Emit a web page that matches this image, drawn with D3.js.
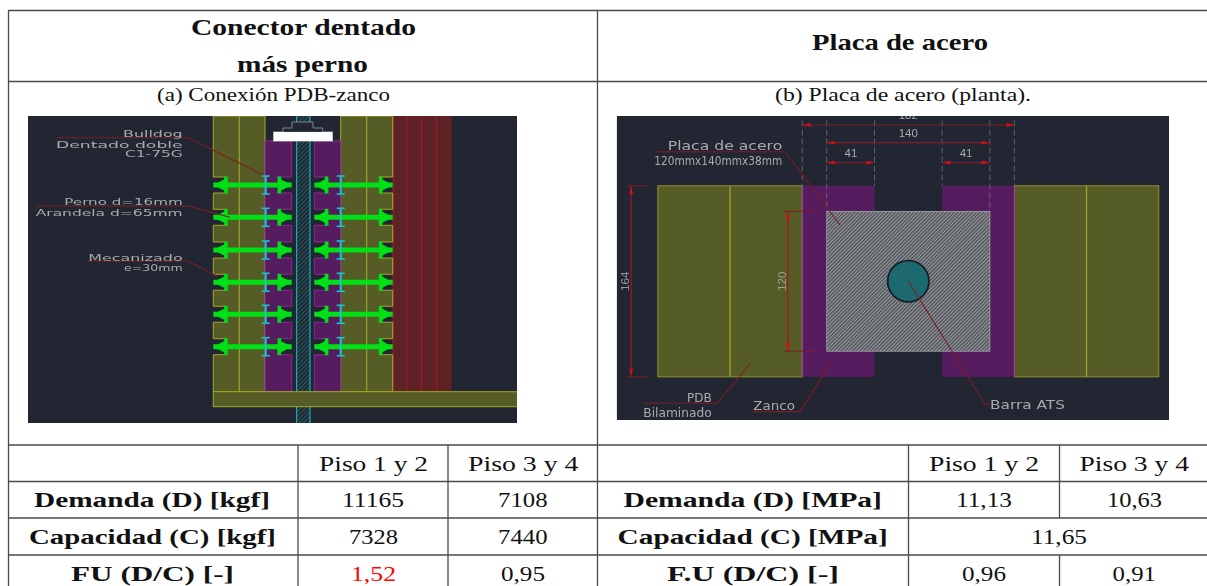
<!DOCTYPE html>
<html><head><meta charset="utf-8">
<script src="https://cdn.jsdelivr.net/npm/d3@7/dist/d3.min.js"></script>
<style>html,body{margin:0;padding:0;background:#fff}svg{display:block}</style>
</head><body><svg id="c" width="1207" height="586"></svg>
<script>
/* ---------- table content ---------- */
const titleA = ["Conector dentado", "más perno"];
const titleB = ["Placa de acero"];
const captions = ["(a) Conexión PDB-zanco", "(b) Placa de acero (planta)."];
const floors = ["Piso 1 y 2", "Piso 3 y 4"];
const rowNamesA = ["Demanda (D) [kgf]", "Capacidad (C) [kgf]", "FU (D/C) [-]"];
const rowNamesB = ["Demanda (D) [MPa]", "Capacidad (C) [MPa]", "F.U (D/C) [-]"];
const valuesA = [["11165", "7108"], ["7328", "7440"], ["1,52", "0,95"]];
const valuesB = [["11,13", "10,63"], ["11,65"], ["0,96", "0,91"]];
/* ---------- drawing dimensions (mm) ---------- */
const plateWidth = 140, plateHeight = 120, zancoOuter = 182, zancoHeight = 164, zancoWing = 41;
/* ---------- drawing A bolt levels (drawing units) ---------- */
const boltLevels = [69, 101.3, 134, 166.3, 198.3, 230.7];

const svg = d3.select("#c");
const defs = svg.append("defs");
defs.append("filter").attr("id","soft").attr("x","-2%").attr("y","-2%").attr("width","104%").attr("height","104%")
  .append("feGaussianBlur").attr("stdDeviation",0.5);
const hatch = defs.append("pattern").attr("id","plateHatch").attr("width",2.6).attr("height",2.6)
  .attr("patternUnits","userSpaceOnUse").attr("patternTransform","rotate(-45)");
hatch.append("rect").attr("width",2.6).attr("height",2.6).attr("fill","#94969a");
hatch.append("rect").attr("width",2.6).attr("height",1.3).attr("fill","#4a4e54");
const hatch2 = defs.append("pattern").attr("id","barHatch").attr("width",3).attr("height",3)
  .attr("patternUnits","userSpaceOnUse").attr("patternTransform","rotate(-45)");
hatch2.append("rect").attr("width",3).attr("height",3).attr("fill","#1c2a33");
hatch2.append("rect").attr("width",3).attr("height",1).attr("fill","#2e5560");

const BG="#212831", OLIVE="#565b25", OLIVE_L="#a6a82a", PURPLE="#561f60", PURPLE_L="#8c2a94",
      REDF="#5b2026", REDL="#a31c22", GREEN="#00e014", CYAN="#1cc0d0", TXT="#a8aaac", LEAD="#7e1d26", DIM="#b0141c";
const line = d3.line();

/* ---------- drawing text helper: stretched to the measured extent ---------- */
function cad(g, items, sx, sy, size){
  g.selectAll(null).data(items).enter().append("text")
    .attr("x",d=>sx(d.a)).attr("y",d=>sy(d.y))
    .attr("textLength",d=>sx(d.b)-sx(d.a)).attr("lengthAdjust","spacingAndGlyphs")
    .attr("font-family","'DejaVu Sans'").attr("font-size",size).attr("fill",TXT).text(d=>d.t);
}

/* ================= Drawing A ================= */
const ax = d3.scaleLinear().domain([0,489]).range([28,517]);
const ay = d3.scaleLinear().domain([0,307]).range([116,423]);
defs.append("clipPath").attr("id","clipA").append("rect").attr("x",28).attr("y",116).attr("width",489).attr("height",307);
const A = svg.append("g").attr("clip-path","url(#clipA)").append("g").attr("filter","url(#soft)");
A.append("rect").attr("x",ax(0)).attr("y",ay(0)).attr("width",489).attr("height",307).attr("fill",BG);

function band(g,x0,x1,y0,y1,fill,stroke,sw){
  g.append("rect").attr("x",ax(x0)).attr("y",ay(y0)).attr("width",ax(x1)-ax(x0)).attr("height",ay(y1)-ay(y0))
   .attr("fill",fill).attr("stroke",stroke||"none").attr("stroke-width",sw||0);
}
/* threaded bar */
band(A,268.7,282,0,307,"url(#barHatch)");
[268.7,282].forEach(x=>A.append("line").attr("x1",ax(x)).attr("x2",ax(x)).attr("y1",ay(0)).attr("y2",ay(307)).attr("stroke",CYAN).attr("stroke-width",1));
/* red plies */
band(A,364.7,423.7,0,275.7,REDF);
[365.2,379,393.7,408.7].forEach(x=>A.append("line").attr("x1",ax(x)).attr("x2",ax(x)).attr("y1",ay(0)).attr("y2",ay(275.7)).attr("stroke",REDL).attr("stroke-width",1.1));
/* toothed members */
const gap = 8;
function toothed(outer, notch, inner, top, bottom){
  const pts=[[inner,top],[outer,top]];
  boltLevels.forEach(y=>pts.push([outer,y-gap],[notch,y-gap],[notch,y+gap],[outer,y+gap]));
  pts.push([outer,bottom],[inner,bottom]);
  return line(pts.map(p=>[ax(p[0]),ay(p[1])]))+"Z";
}
const members=[
 {o:185.3,n:198,i:237,t:0,f:OLIVE,s:OLIVE_L},
 {o:364.7,n:352,i:312.7,t:0,f:OLIVE,s:OLIVE_L},
 {o:263.7,n:251.3,i:237,t:25,f:PURPLE,s:PURPLE_L},
 {o:286.3,n:299,i:312.7,t:25,f:PURPLE,s:PURPLE_L}];
A.selectAll(null).data(members).enter().append("path")
 .attr("d",d=>toothed(d.o,d.n,d.i,d.t,275.7)).attr("fill",d=>d.f).attr("stroke",d=>d.s).attr("stroke-width",1);
[211.3,338.7].forEach(x=>A.append("line").attr("x1",ax(x)).attr("x2",ax(x)).attr("y1",ay(0)).attr("y2",ay(275.7)).attr("stroke",OLIVE_L).attr("stroke-width",1.1));
/* base */
band(A,185.3,495,275.7,290.7,OLIVE,OLIVE_L,1);
/* head plate and nut */
band(A,245.3,304.7,15.7,25.3,"#ffffff");
A.append("path").attr("d",line([[255,15.7],[255,12],[264,12],[264,6],[285,6],[285,12],[294.7,12],[294.7,15.7]].map(p=>[ax(p[0]),ay(p[1])])))
 .attr("fill",BG).attr("stroke","#8b8f93").attr("stroke-width",0.9);
/* bolts */
const boltRuns=[
 {tipA:185.3,washA:198,washB:251.3,tipB:263.7,cy:237.7},
 {tipA:286.3,washA:298.6,washB:352.6,tipB:364.7,cy:312.7}];
boltRuns.forEach(b=>{
  const G=A.append("g").selectAll(null).data(boltLevels).enter().append("g");
  G.append("line").attr("x1",ax(b.tipA)).attr("x2",ax(b.tipB)).attr("y1",ay).attr("y2",ay).attr("stroke",GREEN).attr("stroke-width",5);
  [[b.tipA,b.washA],[b.tipB,b.washB]].forEach(([tip,w])=>{
    G.append("path").attr("d",y=>line([[tip,y],[w,y-6.5],[w,y+6.5]].map(p=>[ax(p[0]),ay(p[1])]))+"Z").attr("fill",GREEN);
    G.append("line").attr("x1",ax(w)).attr("x2",ax(w)).attr("y1",y=>ay(y-8.5)).attr("y2",y=>ay(y+8.5)).attr("stroke",GREEN).attr("stroke-width",3.6);
  });
  G.append("line").attr("x1",ax(b.cy)).attr("x2",ax(b.cy)).attr("y1",y=>ay(y-9)).attr("y2",y=>ay(y+9)).attr("stroke",CYAN).attr("stroke-width",2);
  [-9,9].forEach(o=>G.append("line").attr("x1",ax(b.cy-4)).attr("x2",ax(b.cy+4)).attr("y1",y=>ay(y+o)).attr("y2",y=>ay(y+o)).attr("stroke",CYAN).attr("stroke-width",1.6));
});
/* leaders + labels */
const leadersA=[[[28.7,21.7],[160,21.7],[235.3,59]],[[7.7,90],[160,90],[202,101.3]],[[60,145],[160,145],[188.7,160]]];
A.selectAll(null).data(leadersA).enter().append("path").attr("d",d=>line(d.map(p=>[ax(p[0]),ay(p[1])])))
 .attr("fill","none").attr("stroke",LEAD).attr("stroke-width",1.1);
cad(A,[{t:"Bulldog",a:95,b:154.7,y:21.3},{t:"Dentado doble",a:28,b:154.7,y:31.5},{t:"C1-75G",a:97,b:154.7,y:41.3},
 {t:"Perno d=16mm",a:36.3,b:154.7,y:89.3},{t:"Arandela d=65mm",a:7.7,b:154.7,y:100},
 {t:"Mecanizado",a:60.3,b:154.7,y:145},{t:"e=30mm",a:96,b:154.7,y:154.7}],ax,ay,9.5);

/* ================= Drawing B ================= */
const pxPerMm=1.165;
const bx = d3.scaleLinear().domain([0,1]).range([908.3,908.3+pxPerMm]);
const by = d3.scaleLinear().domain([0,1]).range([281.3,281.3+pxPerMm]);
defs.append("clipPath").attr("id","clipB").append("rect").attr("x",616.7).attr("y",116).attr("width",552.3).attr("height",304);
const B = svg.append("g").attr("clip-path","url(#clipB)").append("g").attr("filter","url(#soft)");
B.append("rect").attr("x",616.7).attr("y",116).attr("width",552.3).attr("height",304).attr("fill",BG);
function box(x0,x1,y0,y1,fill,stroke,sw){
  return B.append("rect").attr("x",bx(x0)).attr("y",by(y0)).attr("width",bx(x1)-bx(x0)).attr("height",by(y1)-by(y0))
   .attr("fill",fill).attr("stroke",stroke||"none").attr("stroke-width",sw||0);
}
const H=zancoHeight/2, Z=zancoOuter/2, PW=plateWidth/2, PH=plateHeight/2, inner=PW-zancoWing, oliveW=124, oliveMid=62;
[-1,1].forEach(s=>{
  const ol=[Z*s,(Z+oliveW)*s].sort(d3.ascending);
  box(ol[0],ol[1],-H,H,OLIVE,"#8f9228",1);
  B.append("line").attr("x1",bx((Z+oliveMid)*s)).attr("x2",bx((Z+oliveMid)*s)).attr("y1",by(-H)).attr("y2",by(H)).attr("stroke",OLIVE_L).attr("stroke-width",1.2);
  const pu=[inner*s,Z*s].sort(d3.ascending);
  box(pu[0],pu[1],-H,H,PURPLE);
  B.append("line").attr("x1",bx(Z*s)).attr("x2",bx(Z*s)).attr("y1",by(-H)).attr("y2",by(H)).attr("stroke","#9a4a8e").attr("stroke-width",1);
});
/* dashed extension lines */
const extX=[-Z,-PW,-inner,inner,PW,Z];
B.selectAll(null).data(extX).enter().append("line")
 .attr("x1",bx).attr("x2",bx).attr("y1",by(-138)).attr("y2",d=>by(Math.abs(d)===PW?-PH:-H))
 .attr("stroke","#6d7076").attr("stroke-width",0.8).attr("stroke-dasharray","6 3");
/* steel plate and bar */
box(-PW,PW,-PH,PH,"url(#plateHatch)","#a4a6a8",0.8);
B.append("circle").attr("cx",bx(0)).attr("cy",by(0)).attr("r",bx(17.7)-bx(0)).attr("fill","#1d6a70").attr("stroke","#12202a").attr("stroke-width",1.8);
/* dimensions */
function hDim(x0,x1,y){
  B.append("line").attr("x1",bx(x0)).attr("x2",bx(x1)).attr("y1",by(y)).attr("y2",by(y)).attr("stroke",LEAD).attr("stroke-width",1.1);
  [[x0,1],[x1,-1]].forEach(([x,d])=>B.append("path").attr("d",line([[x,y],[x+d*7,y-1.6],[x+d*7,y+1.6]].map(p=>[bx(p[0]),by(p[1])]))+"Z").attr("fill","#d40d14"));
}
function vDim(y0,y1,x,tick){
  B.append("line").attr("x1",bx(x)).attr("x2",bx(x)).attr("y1",by(y0)).attr("y2",by(y1)).attr("stroke",DIM).attr("stroke-width",1.1);
  [[y0,1],[y1,-1]].forEach(([y,d])=>{
    B.append("path").attr("d",line([[x,y],[x-1.6,y+d*7],[x+1.6,y+d*7]].map(p=>[bx(p[0]),by(p[1])]))+"Z").attr("fill","#d40d14");
    B.append("line").attr("x1",bx(x-3)).attr("x2",bx(tick)).attr("y1",by(y)).attr("y2",by(y)).attr("stroke",LEAD).attr("stroke-width",1);
  });
}
hDim(-Z,Z,-134.2); hDim(-PW,PW,-119);
hDim(-PW,-inner,-101.9); hDim(inner,PW,-101.9);
vDim(-H,H,-238,-224); vDim(-PH,PH,-103.5,-78);
const dimTexts=[{t:String(zancoOuter),x:0,y:-139.3},{t:String(plateWidth),x:0,y:-123.9},{t:String(zancoWing),x:-49.2,y:-106.7},{t:String(zancoWing),x:49.6,y:-106.7}];
B.selectAll(null).data(dimTexts).enter().append("text").attr("x",d=>bx(d.x)).attr("y",d=>by(d.y)).attr("text-anchor","middle")
 .attr("font-family","'Liberation Sans'").attr("font-size",11.5).attr("fill",TXT).text(d=>d.t);
[{t:String(zancoHeight),x:-239.7},{t:String(plateHeight),x:-105.2}].forEach(d=>
  B.append("text").attr("transform",`translate(${bx(d.x)},${by(0)}) rotate(-90)`).attr("text-anchor","middle")
   .attr("font-family","'Liberation Sans'").attr("font-size",11.5).attr("fill",TXT).attr("opacity",.85).text(d.t));
/* leaders + labels */
const leadersB=[[[-216.6,-111.2],[-105.8,-111.2],[-58.6,-48.3]],[[-227.5,104.7],[-164,104.7],[-135.9,71]],
 [[-133,111.9],[-93,111.9],[-66.6,71]],[[0,0],[65.8,105.3],[70.1,105.3]]];
B.selectAll(null).data(leadersB).enter().append("path").attr("d",d=>line(d.map(p=>[bx(p[0]),by(p[1])])))
 .attr("fill","none").attr("stroke",LEAD).attr("stroke-width",1.1);
cad(B,[{t:"Placa de acero",a:-206.5,b:-108.2,y:-112.6},{t:"120mmx140mmx38mm",a:-218,b:-108.2,y:-99.8},
 {t:"PDB",a:-190,b:-168.8,y:103.9},{t:"Bilaminado",a:-227.5,b:-168.8,y:116.2},
 {t:"Zanco",a:-133,b:-97.3,y:110.5},{t:"Barra ATS",a:70.1,b:134.5,y:109.6}],bx,by,11.5);

/* ================= Table ================= */
const LINE="#4a4a4a";
const rowY=[10.5,81.5,445,481.5,518,555];
const colX=[8.5,298,448,597.5,908.5,1059.5];
const hLines=rowY.map(y=>({x1:8,x2:1207,y1:y,y2:y}));
const vLines=[
 {x:colX[0],y1:10,y2:586},{x:colX[3],y1:10,y2:586},
 {x:colX[1],y1:445,y2:586},{x:colX[2],y1:445,y2:586},{x:colX[4],y1:445,y2:586},
 {x:colX[5],y1:445,y2:518},{x:colX[5],y1:555,y2:586}];
svg.selectAll(null).data(hLines).enter().append("line").attr("x1",d=>d.x1).attr("x2",d=>d.x2).attr("y1",d=>d.y1).attr("y2",d=>d.y2)
 .attr("stroke",LINE).attr("stroke-width",1.3);
svg.selectAll(null).data(vLines).enter().append("line").attr("x1",d=>d.x).attr("x2",d=>d.x).attr("y1",d=>d.y1).attr("y2",d=>d.y2)
 .attr("stroke",LINE).attr("stroke-width",1.3);

const baseY=[470.5,506.7,543.5,580.5];
const cells=[
 {t:titleA[0],a:191,b:416,y:35,bold:1,s:24},{t:titleA[1],a:237,b:368,y:72,bold:1,s:24},
 {t:titleB[0],a:812,b:988,y:50,bold:1,s:24},
 {t:captions[0],a:157,b:390,y:100.5,s:19.5},{t:captions[1],a:775,b:1031,y:100.5,s:19.5},
 {t:floors[0],a:319,b:428,y:baseY[0]},{t:floors[1],a:468,b:578.5,y:baseY[0]},
 {t:floors[0],a:929,b:1039,y:baseY[0]},{t:floors[1],a:1079.5,b:1189,y:baseY[0]},
 {t:rowNamesA[0],a:34,b:270,y:baseY[1],bold:1},{t:rowNamesA[1],a:29,b:276,y:baseY[2],bold:1},{t:rowNamesA[2],a:71,b:234,y:baseY[3],bold:1},
 {t:rowNamesB[0],a:623.5,b:882,y:baseY[1],bold:1},{t:rowNamesB[1],a:617.6,b:887.7,y:baseY[2],bold:1},{t:rowNamesB[2],a:667,b:839,y:baseY[3],bold:1},
 {t:valuesA[0][0],a:342,b:404,y:baseY[1]},{t:valuesA[0][1],a:498,b:547.5,y:baseY[1]},
 {t:valuesA[1][0],a:349,b:398,y:baseY[2]},{t:valuesA[1][1],a:498,b:547.5,y:baseY[2]},
 {t:valuesA[2][0],a:351,b:396,y:baseY[3],c:"#ff0000"},{t:valuesA[2][1],a:501,b:545,y:baseY[3]},
 {t:valuesB[0][0],a:956,b:1012,y:baseY[1]},{t:valuesB[0][1],a:1107,b:1162,y:baseY[1]},
 {t:valuesB[1][0],a:1031,b:1087,y:baseY[2]},
 {t:valuesB[2][0],a:962,b:1006,y:baseY[3]},{t:valuesB[2][1],a:1112.6,b:1156,y:baseY[3]}];
svg.selectAll(null).data(cells).enter().append("text")
 .attr("x",d=>d.a).attr("y",d=>d.y).attr("textLength",d=>d.b-d.a).attr("lengthAdjust","spacingAndGlyphs")
 .attr("font-family","'Liberation Serif'").attr("font-size",d=>d.s||22).attr("font-weight",d=>d.bold?"bold":"normal")
 .attr("fill",d=>d.c||"#111").text(d=>d.t);
</script></body></html>
